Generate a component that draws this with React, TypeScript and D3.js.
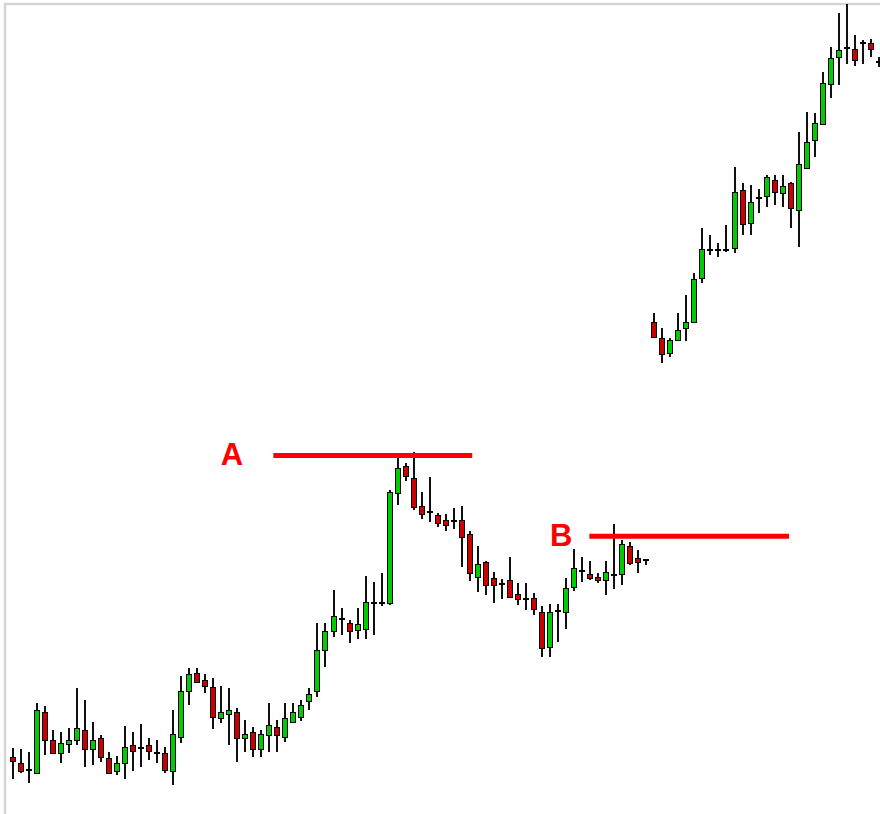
import React from "react";
import * as d3 from "d3";

// OHLC series (arbitrary price units)
const opens = [63,57,50,47,108,80,67,76,80,90,71,82,62,49,57,75,72,75,67,67,49,83,129,147,140,133,102,106,108,82,88,71,85,93,83,98,103,119,129,170,189,201,197,190,191,217,217,217,327,354,342,314,308,305,300,299,300,286,243,258,242,236,240,226,221,222,208,173,209,208,233,249,246,243,240,245,246,274,262,260,498,482,467,480,492,498,542,570,570,570,572,630,597,622,624,640,627,637,610,652,680,696,736,763,772,771,777,777,758];
const highs = [72,71,68,117,114,90,88,92,132,120,98,85,68,64,94,88,96,82,80,73,110,144,152,152,146,142,134,132,112,100,93,90,117,100,117,117,120,132,197,197,230,212,200,212,244,238,247,330,362,357,368,328,343,307,306,312,314,289,274,259,248,241,263,237,237,227,214,216,216,242,271,263,259,247,259,296,280,278,270,260,507,492,482,507,525,547,592,585,577,595,653,637,635,631,645,645,645,638,688,708,707,748,773,807,816,785,780,781,763];
const lows = [41,47,37,46,65,66,57,67,75,53,55,58,46,45,41,49,53,60,57,47,35,77,115,137,127,91,97,75,58,68,63,63,68,68,78,97,99,110,123,153,183,185,177,181,181,185,214,215,315,339,310,301,298,293,289,291,253,239,228,225,217,221,222,215,210,205,163,163,178,191,229,238,240,237,225,231,235,255,247,255,482,457,463,479,479,497,537,565,563,568,567,585,585,607,613,615,613,592,573,652,663,695,722,735,756,754,756,763,753];
const closes = [59,49,50,110,80,67,77,80,92,71,80,63,47,57,73,69,72,69,67,50,86,129,146,138,134,103,108,110,82,86,71,86,95,85,102,108,115,126,170,189,204,201,189,196,218,217,217,328,352,344,313,306,308,297,295,299,283,247,256,235,235,236,223,221,221,211,172,208,209,232,252,249,242,240,248,245,276,257,258,260,483,466,480,490,498,541,571,570,570,570,628,596,618,622,643,628,634,612,656,678,697,737,762,770,772,760,777,771,758];

// annotation levels
const levelLabels = ["A", "B"];
const levelPrices = [364.5, 283.7];
const levelFrom = [32.5, 71.9];
const levelTo = [57.3, 96.8];
const levelLabelAt = [27.35, 68.4];

const W = 880;
const H = 814;

export default function App() {
  const n = opens.length;
  const x = d3.scaleLinear().domain([0, n - 1]).range([12.7, 12.7 + 8.02 * (n - 1)]);
  const y = d3.scaleLinear().domain([0, 820]).range([820, 0]);
  const bodyW = 5;

  const candles = d3.range(n).map((i) => {
    const o = opens[i], c = closes[i], h = highs[i], l = lows[i];
    const cx = Math.round(x(i));
    const top = y(Math.max(o, c));
    const bot = y(Math.min(o, c));
    const doji = Math.abs(o - c) < 0.5;
    const fill = c > o ? "#00cc00" : "#cc0000";
    return (
      <g key={i}>
        <line x1={cx} x2={cx} y1={y(h)} y2={y(l)} stroke="#111" strokeWidth={2} />
        {doji ? (
          <line x1={cx - 3} x2={cx + 3} y1={Math.round(top)} y2={Math.round(top)} stroke="#000" strokeWidth={2} />
        ) : (
          <rect
            x={cx - bodyW / 2}
            y={Math.round(top) + 0.5}
            width={bodyW}
            height={Math.max(1, Math.round(bot - top))}
            fill={fill}
            stroke="#000"
            strokeWidth={1}
          />
        )}
      </g>
    );
  });

  return (
    <div style={{ position: "absolute", left: 0, top: 0, width: W, height: H, background: "#fff" }}>
      <svg width={W} height={H} style={{ display: "block" }}>
        <rect x={0} y={0} width={W} height={H} fill="#fff" />
        <line x1={4} x2={W} y1={4} y2={4} stroke="#d4d4d4" strokeWidth={2.5} />
        <line x1={5} x2={5} y1={3} y2={H} stroke="#d4d4d4" strokeWidth={2.5} />
        <g shapeRendering="crispEdges">{candles}</g>
        {levelLabels.map((lab, k) => (
          <g key={lab}>
            <line
              x1={x(levelFrom[k])}
              x2={x(levelTo[k])}
              y1={y(levelPrices[k])}
              y2={y(levelPrices[k])}
              stroke="#ff0000"
              strokeWidth={5}
            />
            <text
              x={x(levelLabelAt[k])}
              y={y(levelPrices[k]) + 9.5}
              textAnchor="middle"
              fill="#ff0000"
              fontFamily="Liberation Sans, Arial, sans-serif"
              fontWeight="bold"
              fontSize={31}
            >
              {lab}
            </text>
          </g>
        ))}
      </svg>
    </div>
  );
}
